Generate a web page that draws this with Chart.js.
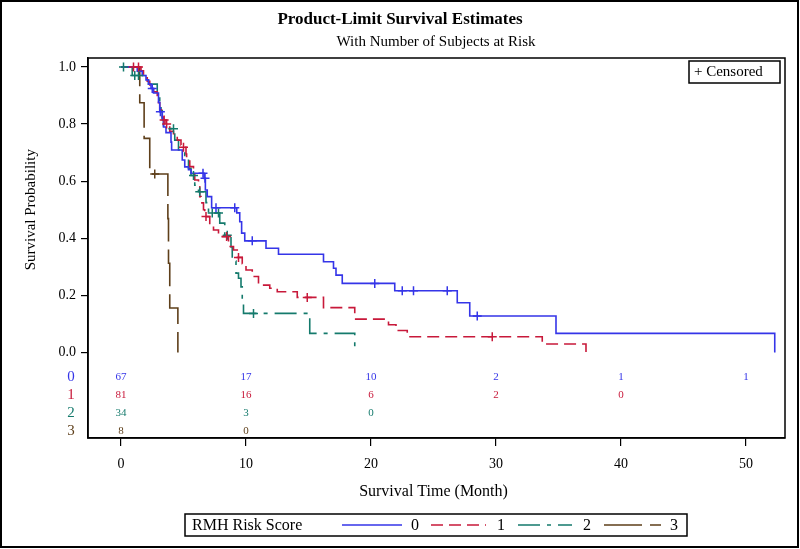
<!DOCTYPE html>
<html>
<head>
<meta charset="utf-8">
<script src="https://cdn.jsdelivr.net/npm/chart.js@4/dist/chart.umd.min.js"></script>
<style>
html,body{margin:0;padding:0;background:#fff;}
#wrap{width:800px;height:549px;position:relative;}
</style>
</head>
<body>
<div id="wrap"><canvas id="c" width="800" height="549"></canvas></div>
<script>
// ---------- data ----------
const groupLabels = ['0', '1', '2', '3'];
const xTickValues = [0, 10, 20, 30, 40, 50];
const yTickValues = [0, 0.2, 0.4, 0.6, 0.8, 1.0];

// Group 0
const time0 = [0, 1.3, 1.7, 2.0, 2.2, 2.4, 2.6, 3.0, 3.1, 3.3, 3.4, 3.6, 4.0, 4.05, 4.9, 5.1, 5.4, 5.6, 6.65, 6.75, 6.9, 7.25, 9.26, 9.5, 9.65, 9.9, 11.6, 12.6, 16.2, 17.0, 17.2, 17.7, 21.9, 26.9, 27.9, 34.8, 52.3];
const surv0 = [1, 0.985, 0.97, 0.955, 0.94, 0.925, 0.909, 0.876, 0.843, 0.82, 0.79, 0.77, 0.737, 0.709, 0.674, 0.65, 0.64, 0.628, 0.61, 0.569, 0.546, 0.507, 0.489, 0.458, 0.418, 0.391, 0.365, 0.344, 0.318, 0.295, 0.271, 0.242, 0.216, 0.174, 0.128, 0.067, 0];
const censTime0 = [2.5, 3.15, 6.56, 6.72, 7.6, 9.1, 10.5, 20.3, 22.5, 23.4, 26.1, 28.5];
const censSurv0 = [0.925, 0.843, 0.628, 0.61, 0.507, 0.507, 0.391, 0.242, 0.216, 0.216, 0.216, 0.128];

// Group 1
const time1 = [0, 1.6, 1.8, 2.0, 2.1, 2.3, 2.5, 2.6, 2.9, 3.0, 3.1, 3.3, 3.4, 3.6, 3.9, 4.2, 4.5, 4.8, 4.9, 5.2, 5.25, 5.5, 5.8, 5.9, 6.2, 6.3, 6.4, 6.6, 6.7, 7.1, 7.4, 7.8, 8.6, 9.0, 9.3, 9.7, 10.0, 10.5, 11.0, 11.9, 12.5, 14.1, 16.2, 18.7, 21.4, 22.0, 22.9, 33.7, 37.2];
const surv1 = [1, 0.987, 0.975, 0.962, 0.95, 0.937, 0.925, 0.913, 0.9, 0.875, 0.85, 0.825, 0.814, 0.8, 0.775, 0.756, 0.744, 0.727, 0.719, 0.695, 0.674, 0.651, 0.627, 0.604, 0.58, 0.546, 0.524, 0.5, 0.476, 0.447, 0.429, 0.406, 0.371, 0.359, 0.333, 0.311, 0.289, 0.266, 0.236, 0.225, 0.213, 0.193, 0.157, 0.117, 0.097, 0.077, 0.055, 0.030, 0];
const censTime1 = [1.0, 1.4, 3.45, 3.65, 5.0, 6.8, 8.45, 9.4, 14.9, 29.7];
const censSurv1 = [1, 1, 0.814, 0.8, 0.719, 0.476, 0.406, 0.333, 0.193, 0.055];

// Group 2
const time2 = [0, 0.9, 2.2, 2.9, 3.1, 3.2, 3.3, 3.4, 4.3, 4.6, 5.1, 5.4, 5.6, 5.9, 6.2, 6.8, 7.0, 7.9, 8.3, 8.8, 8.9, 9.2, 9.4, 9.6, 9.7, 9.8, 15.1, 18.7];
const surv2 = [1, 0.97, 0.94, 0.909, 0.878, 0.847, 0.815, 0.784, 0.744, 0.709, 0.68, 0.645, 0.62, 0.586, 0.563, 0.525, 0.489, 0.453, 0.411, 0.37, 0.32, 0.278, 0.26, 0.23, 0.184, 0.137, 0.067, 0];
const censTime2 = [0.2, 1.1, 1.4, 4.2, 5.8, 6.3, 7.3, 7.8, 8.5, 10.6];
const censSurv2 = [1, 0.97, 0.97, 0.784, 0.62, 0.563, 0.489, 0.489, 0.411, 0.137];

// Group 3
const time3 = [0, 1.5, 1.85, 2.3, 3.75, 3.8, 3.9, 4.55];
const surv3 = [1, 0.875, 0.75, 0.625, 0.469, 0.3125, 0.156, 0];
const censTime3 = [2.7];
const censSurv3 = [0.625];

// Number at risk
const riskTimes = [0, 10, 20, 30, 40, 50];
const atRisk0 = [67, 17, 10, 2, 1, 1];
const atRisk1 = [81, 16, 6, 2, 0];
const atRisk2 = [34, 3, 0];
const atRisk3 = [8, 0];

// ---------- styles ----------
const colors = ['#3535e8', '#c8193a', '#147a6c', '#5e3f1a'];
const dashes = [[], [12, 6], [22, 7, 4, 7], [38, 8]];
const FONT = "'Liberation Serif', 'Times New Roman', serif";

const times = [time0, time1, time2, time3];
const survs = [surv0, surv1, surv2, surv3];
const censT = [censTime0, censTime1, censTime2, censTime3];
const censS = [censSurv0, censSurv1, censSurv2, censSurv3];
const risks = [atRisk0, atRisk1, atRisk2, atRisk3];

const datasets = [];
for (let g = 0; g < 4; g++) {
  datasets.push({
    label: groupLabels[g],
    data: times[g].map((t, i) => ({x: t, y: survs[g][i]})),
    showLine: true,
    stepped: true,
    borderColor: colors[g],
    backgroundColor: colors[g],
    borderWidth: 1.6,
    borderDash: dashes[g],
    pointRadius: 0,
    fill: false,
    order: 2
  });
}
for (let g = 0; g < 4; g++) {
  datasets.push({
    label: 'Censored ' + groupLabels[g],
    data: censT[g].map((t, i) => ({x: t, y: censS[g][i]})),
    showLine: false,
    pointStyle: 'cross',
    pointRadius: 4.5,
    pointBorderWidth: 1.5,
    borderColor: colors[g],
    backgroundColor: colors[g],
    order: 1
  });
}

const decor = {
  id: 'decor',
  afterDraw(chart) {
    const ctx = chart.ctx;
    const ca = chart.chartArea;
    const xs = chart.scales.x, ys = chart.scales.y;
    ctx.save();
    // outer border
    ctx.strokeStyle = '#000';
    ctx.lineWidth = 2;
    ctx.strokeRect(1, 1, 797, 546);
    // frame
    ctx.lineWidth = 1.5;
    ctx.strokeRect(ca.left, ca.top, ca.right - ca.left, ca.bottom - ca.top);

    ctx.fillStyle = '#000';
    ctx.textAlign = 'center';
    ctx.textBaseline = 'middle';
    ctx.font = 'bold 17px ' + FONT;
    ctx.fillText('Product-Limit Survival Estimates', 400, 20);
    ctx.font = '15px ' + FONT;
    ctx.fillText('With Number of Subjects at Risk', 436, 42);

    // axis titles
    ctx.font = '16px ' + FONT;
    ctx.fillText('Survival Time (Month)', (xs.getPixelForValue(0) + xs.getPixelForValue(50)) / 2, 492);
    ctx.save();
    ctx.translate(31, (ys.getPixelForValue(0) + ys.getPixelForValue(1)) / 2);
    ctx.rotate(-Math.PI / 2);
    ctx.font = '15px ' + FONT;
    ctx.fillText('Survival Probability', 0, 0);
    ctx.restore();

    // risk table
    const rowY = [377, 395, 413, 431];
    for (let g = 0; g < 4; g++) {
      ctx.fillStyle = colors[g];
      ctx.font = '15px ' + FONT;
      ctx.fillText(groupLabels[g], 71, rowY[g]);
      ctx.font = '11px ' + FONT;
      risks[g].forEach((n, i) => {
        ctx.fillText(String(n), xs.getPixelForValue(riskTimes[i]), rowY[g]);
      });
    }

    // censored legend box
    ctx.strokeStyle = '#000';
    ctx.lineWidth = 1.5;
    ctx.strokeRect(689, 61, 91, 22);
    ctx.fillStyle = '#000';
    ctx.font = '15px ' + FONT;
    ctx.textAlign = 'left';
    ctx.fillText('+ Censored', 694, 72.5);

    // bottom legend
    ctx.strokeRect(185, 514, 502, 22);
    ctx.font = '16px ' + FONT;
    ctx.fillText('RMH Risk Score', 192, 525.5);
    const segs = [[342, 402, 415], [431, 486, 501], [518, 572, 587], [604, 661, 674]];
    for (let g = 0; g < 4; g++) {
      ctx.strokeStyle = colors[g];
      ctx.lineWidth = 1.6;
      ctx.setLineDash(dashes[g]);
      ctx.beginPath();
      ctx.moveTo(segs[g][0], 525);
      ctx.lineTo(segs[g][1], 525);
      ctx.stroke();
      ctx.setLineDash([]);
      ctx.fillStyle = '#000';
      ctx.textAlign = 'center';
      ctx.fillText(groupLabels[g], segs[g][2], 525.5);
    }
    ctx.restore();
  }
};

new Chart(document.getElementById('c'), {
  type: 'scatter',
  data: {datasets},
  options: {
    responsive: false,
    animation: false,
    devicePixelRatio: 1,
    layout: {padding: {top: 58, right: 15, left: 0, bottom: 0}},
    plugins: {legend: {display: false}, tooltip: {enabled: false}, title: {display: false}},
    scales: {
      x: {
        type: 'linear',
        min: -2.64, max: 53.12,
        afterBuildTicks: (axis) => { axis.ticks = xTickValues.map(v => ({value: v})); },
        afterFit: (axis) => { axis.height = 111; },
        ticks: {color: '#000', font: {family: FONT, size: 14}, padding: 10, maxRotation: 0},
        grid: {display: true, drawOnChartArea: false, drawTicks: true, tickLength: 8, color: '#000', lineWidth: 1.2},
        border: {display: true, color: '#000', width: 1.5}
      },
      y: {
        type: 'linear',
        min: -0.2995, max: 1.0315,
        afterBuildTicks: (axis) => { axis.ticks = yTickValues.map(v => ({value: v})); },
        afterFit: (axis) => { axis.width = 88; },
        ticks: {color: '#000', font: {family: FONT, size: 14}, padding: 5, callback: (v) => Number(v).toFixed(1)},
        grid: {display: true, drawOnChartArea: false, drawTicks: true, tickLength: 7, color: '#000', lineWidth: 1.2},
        border: {display: true, color: '#000', width: 1.5}
      }
    }
  },
  plugins: [decor]
});
</script>
</body>
</html>
